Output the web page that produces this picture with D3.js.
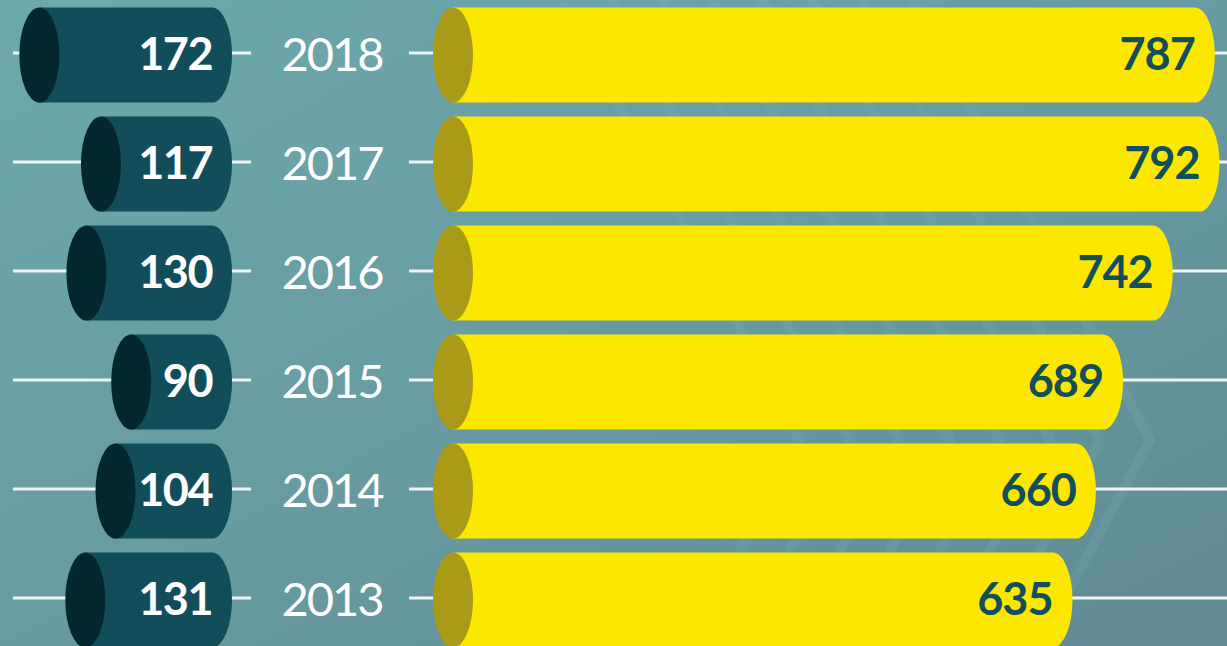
<!DOCTYPE html>
<html>
<head>
<meta charset="utf-8">
<script src="https://cdn.jsdelivr.net/npm/d3@7"></script>
<style>
  html, body { margin: 0; padding: 0; overflow: hidden; }
  #chart { width: 1227px; height: 646px; }
</style>
</head>
<body>
<div id="chart"></div>
<script>
// Data
const years = ['2018', '2017', '2016', '2015', '2014', '2013'];
const leftValues = [172, 117, 130, 90, 104, 131];
const rightValues = [787, 792, 742, 689, 660, 635];

function draw() {
    const dimensions = {
        width: 1227,
        height: 646,
        barHeight: 95,
        capRx: 20
    };
    const rows = years.map((year, i) => ({ year, left: leftValues[i], right: rightValues[i] }));

    const svg = d3.select('#chart')
        .append('svg')
        .attr('width', dimensions.width)
        .attr('height', dimensions.height);

    // Background
    const defs = svg.append('defs');
    const grad = defs.append('linearGradient')
        .attr('id', 'bg')
        .attr('x1', '0').attr('y1', '0')
        .attr('x2', '1').attr('y2', '1');
    grad.append('stop').attr('offset', '0%').attr('stop-color', '#6ca9ad');
    grad.append('stop').attr('offset', '55%').attr('stop-color', '#679aa0');
    grad.append('stop').attr('offset', '100%').attr('stop-color', '#618a94');

    svg.append('rect')
        .attr('width', dimensions.width)
        .attr('height', dimensions.height)
        .attr('fill', 'url(#bg)');

    // faint chevrons
    const chevrons = svg.append('g')
        .attr('fill', 'none')
        .attr('stroke', '#7fb6bb')
        .attr('stroke-opacity', 0.18)
        .attr('stroke-width', 10);
    d3.range(8).forEach(i => {
        const x = 800 + i * 50;
        chevrons.append('polyline')
            .attr('points', `${x - 260},-40 ${x},440 ${x - 260},920`);
    });

    // Scales
    const y = d3.scalePoint()
        .domain(years)
        .range([55, 600]);

    const xLeft = d3.scaleLinear()
        .domain([0, 200])
        .range([232, 8]);

    const xRight = d3.scaleLinear()
        .domain([0, 800])
        .range([478, 1227]);

    const h = dimensions.barHeight;
    const ry = h / 2;
    const rx = dimensions.capRx;

    // Guide lines
    const lines = svg.append('g')
        .attr('stroke', '#eef3f5')
        .attr('stroke-width', 3);
    lines.selectAll('.l1')
        .data(rows)
        .join('line')
        .attr('x1', 13).attr('x2', 251)
        .attr('y1', d => y(d.year) - 2).attr('y2', d => y(d.year) - 2);
    lines.selectAll('.l2')
        .data(rows)
        .join('line')
        .attr('x1', 409).attr('x2', dimensions.width)
        .attr('y1', d => y(d.year) - 2).attr('y2', d => y(d.year) - 2);

    // Cylinder body path: flat at x0, rounded cap ending at x1
    const body = (x0, x1, cy) => {
        const top = cy - ry, bottom = cy + ry;
        return `M${x0},${top} L${x1 - rx},${top} A${rx},${ry} 0 0 1 ${x1 - rx},${bottom} L${x0},${bottom} Z`;
    };

    // Left cylinders
    const left = svg.append('g');
    left.selectAll('path')
        .data(rows)
        .join('path')
        .attr('d', d => body(xLeft(d.left), 232, y(d.year)))
        .attr('fill', '#114d5a');
    left.selectAll('ellipse')
        .data(rows)
        .join('ellipse')
        .attr('cx', d => xLeft(d.left))
        .attr('cy', d => y(d.year))
        .attr('rx', rx)
        .attr('ry', ry)
        .attr('fill', '#03272f');
    left.selectAll('text')
        .data(rows)
        .join('text')
        .attr('x', 212)
        .attr('y', d => y(d.year) + 15)
        .attr('text-anchor', 'end')
        .attr('fill', '#ffffff')
        .style('font-family', 'Lato, sans-serif')
        .style('font-weight', 700)
        .style('font-size', '45px')
        .style('letter-spacing', '-1.5px')
        .text(d => d.left);

    // Year labels
    svg.append('g')
        .selectAll('text')
        .data(rows)
        .join('text')
        .attr('x', 332)
        .attr('y', d => y(d.year) + 16)
        .attr('text-anchor', 'middle')
        .attr('fill', '#ffffff')
        .style('font-family', 'Lato, sans-serif')
        .style('font-weight', 400)
        .style('font-size', '47px')
        .style('letter-spacing', '-2px')
        .text(d => d.year);

    // Right cylinders
    const right = svg.append('g');
    right.selectAll('path')
        .data(rows)
        .join('path')
        .attr('d', d => body(453, xRight(d.right), y(d.year)))
        .attr('fill', '#fce700');
    right.selectAll('ellipse')
        .data(rows)
        .join('ellipse')
        .attr('cx', 453)
        .attr('cy', d => y(d.year))
        .attr('rx', rx)
        .attr('ry', ry)
        .attr('fill', '#a99b17');
    right.selectAll('text')
        .data(rows)
        .join('text')
        .attr('x', d => xRight(d.right) - 20)
        .attr('y', d => y(d.year) + 15)
        .attr('text-anchor', 'end')
        .attr('fill', '#124e5b')
        .style('font-family', 'Lato, sans-serif')
        .style('font-weight', 700)
        .style('font-size', '45px')
        .style('letter-spacing', '-1px')
        .text(d => d.right);
}

draw();
</script>
</body>
</html>
